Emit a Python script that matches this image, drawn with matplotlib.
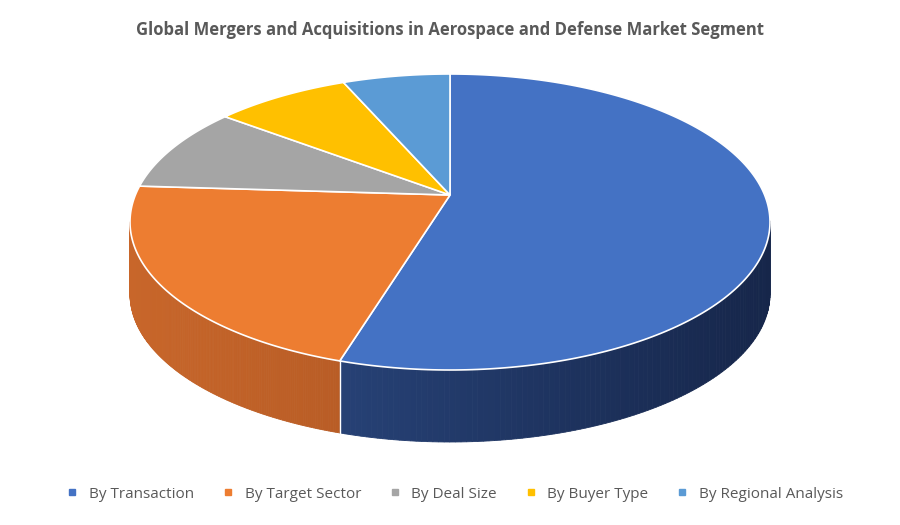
import numpy as np
import matplotlib.pyplot as plt
from matplotlib.patches import Polygon
from matplotlib.lines import Line2D

labels = ["By Transaction", "By Target Sector", "By Deal Size", "By Buyer Type", "By Regional Analysis"]
shares = [55.6, 23.3, 8.7, 7.0, 5.4]
top_colors = ["#4472C4", "#ED7D31", "#A5A5A5", "#FFC000", "#5B9BD5"]
side_dark = [("#2E4E8A", "#16264A"), ("#C8662A", "#9A4A1C"), ("#7A7A7A", "#5A5A5A"),
             ("#BF9000", "#8F6C00"), ("#41719C", "#2E5070")]

cx, cy, rx, ry = 450, 222, 320, 148
apex = (450, 195)
depth = 72

plt.rcParams["font.family"] = ["Open Sans", "DejaVu Sans"]
fig = plt.figure(figsize=(9, 5.25), dpi=100)
ax = fig.add_axes([0, 0, 1, 1])
ax.set_xlim(0, 900)
ax.set_ylim(525, 0)
ax.axis("off")

def pt(t):
    return cx + rx * np.cos(t), cy - ry * np.sin(t)

# slice angle ranges, clockwise from top
bounds = []
start = 90.0
for s in shares:
    end = start - s / 100 * 360
    bounds.append((start, end))
    start = end

def mix(c1, c2, f):
    a = np.array(plt.matplotlib.colors.to_rgb(c1))
    b = np.array(plt.matplotlib.colors.to_rgb(c2))
    return a * (1 - f) + b * f

# side walls
for (a0, a1), (cl, cr) in zip(bounds, side_dark):
    ts = np.radians(np.linspace(a1, a0, 200))
    for i in range(len(ts) - 1):
        t0, t1 = ts[i], ts[i + 1]
        if np.sin(t0) > 0 and np.sin(t1) > 0:
            continue
        x0, y0 = pt(t0)
        x1, y1 = pt(t1)
        f = (x0 - (cx - rx)) / (2 * rx)
        poly = Polygon([(x0, y0), (x1, y1), (x1, y1 + depth), (x0, y0 + depth)],
                       closed=True, facecolor=mix(cl, cr, f), edgecolor=mix(cl, cr, f), lw=0.6)
        ax.add_patch(poly)
# white seam between blue and orange sides
xb, yb = pt(np.radians(bounds[0][1]))
ax.plot([xb, xb], [yb, yb + depth], color="white", lw=1)

# top faces
for (a0, a1), col in zip(bounds, top_colors):
    ts = np.radians(np.linspace(a0, a1, 200))
    pts = [apex] + [pt(t) for t in ts]
    ax.add_patch(Polygon(pts, closed=True, facecolor=col, edgecolor="white", lw=1.2))

ax.text(450, 30, "Global Mergers and Acquisitions in Aerospace and Defense Market Segment",
        ha="center", va="center", fontsize=12, fontweight="bold", color="#595959")

handles = [Line2D([0], [0], marker="s", color="none", markerfacecolor=c, markeredgecolor=c,
                  markersize=5) for c in top_colors]
fig.legend(handles, labels, loc="center", bbox_to_anchor=(0.5, 1 - 494 / 525), ncol=5,
           frameon=False, fontsize=11, handletextpad=0.1, columnspacing=1.2,
           labelcolor="#595959")

fig.savefig("out.png", dpi=100)
